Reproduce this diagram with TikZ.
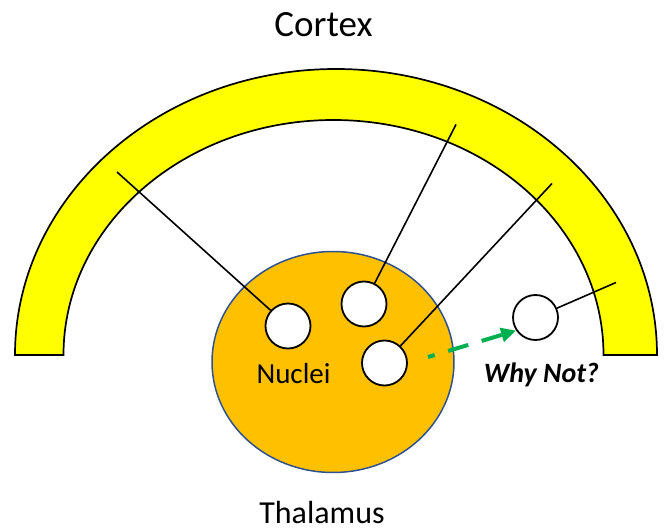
\documentclass[tikz,border=0pt]{standalone}
\usepackage{fontspec}
\setmainfont{Carlito}
\usetikzlibrary{arrows.meta,shapes.geometric}
\definecolor{cortexyellow}{HTML}{FFFF00}
\definecolor{thalgold}{HTML}{FFC000}
\definecolor{thalblue}{HTML}{2F528F}
\definecolor{arrowgreen}{HTML}{00B050}
\begin{document}
\begin{tikzpicture}[x=1pt,y=1pt,
  nucleus/.style={draw,circle,fill=white,line width=1.8pt,minimum size=45pt,inner sep=0pt},
  fiber/.style={draw,line width=1.6pt}]
\useasboundingbox (0,0) rectangle (664,531);

% cortex band
\path[draw,fill=cortexyellow,line width=1.7pt] (15,176)
  arc[start angle=180,end angle=0,x radius=321,y radius=286] -- (603.5,176)
  arc[start angle=0,end angle=180,x radius=270,y radius=235] -- cycle;

% thalamus
\node[draw=thalblue,fill=thalgold,ellipse,line width=1.5pt,minimum width=242pt,minimum height=221pt] (thal) at (333,169) {};

\node[nucleus] (n1) at (288,205) {};
\node[nucleus] (n2) at (364,227) {};
\node[nucleus] (n3) at (384.5,168) {};
\node[nucleus] (wn) at (535.5,213.5) {};

\coordinate (c1) at (117,359);
\coordinate (c2) at (456,406.5);
\coordinate (c3) at (552,347.5);
\coordinate (c4) at (616,248.5);
\coordinate (g0) at (428,174);

\path[fiber] (n1) -- (c1);
\path[fiber] (n2) -- (c2);
\path[fiber] (n3) -- (c3);
\path[fiber] (wn) -- (c4);

\path[draw=arrowgreen,line width=4pt,dash pattern=on 21pt off 14pt,dash phase=14pt,
  -{Triangle[length=15pt,width=14pt]}] (g0) -- (wn.214);

\node[anchor=base,font=\fontsize{37}{40}\selectfont] (cortex) at (323.5,494) {Cortex};
\node[anchor=base,inner sep=1pt,font=\fontsize{32}{35}\selectfont] (thallabel) at (322,8) {Thalamus};
\node[anchor=base,font=\fontsize{29}{32}\selectfont] (nuclei) at (293.5,148) {Nuclei};
\node[anchor=base,font=\fontsize{28}{30}\selectfont\bfseries\itshape] (whynot) at (541.5,149) {Why Not?};
\end{tikzpicture}
\end{document}
